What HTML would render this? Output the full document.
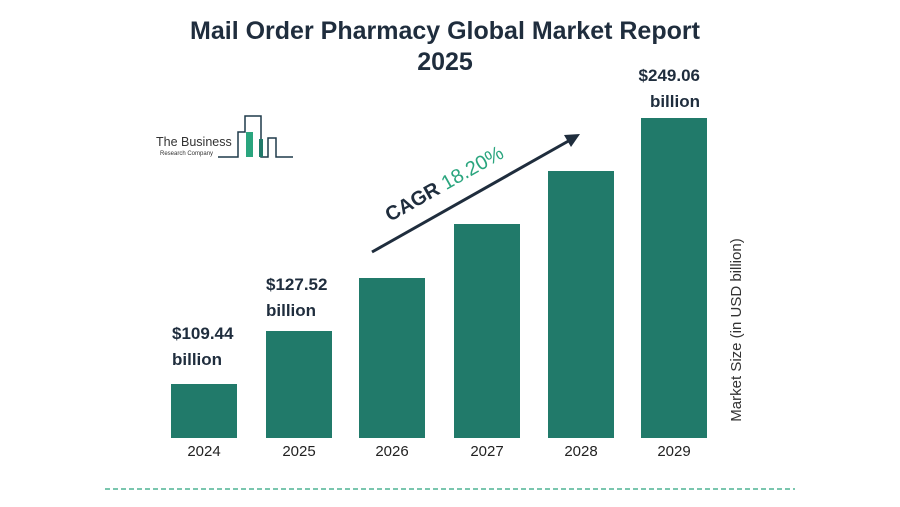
<!DOCTYPE html>
<html><head><style>
body{margin:0;width:900px;height:507px;background:#fff;overflow:hidden;font-family:"Liberation Sans",sans-serif;position:relative}
.t{position:absolute;color:#1f2d3d;font-weight:bold}
.bar{position:absolute;background:#217a6a;width:66px}
.yr{position:absolute;top:443px;width:66px;text-align:center;font-size:15px;color:#222}
.lb{position:absolute;font-size:17px;font-weight:bold;color:#1f2d3d;line-height:26px}
</style></head><body>
<div class="t" style="left:0;width:890px;text-align:center;top:16px;font-size:25px;line-height:31px">Mail Order Pharmacy Global Market Report<br>2025</div>

<svg style="position:absolute;left:150px;top:110px" width="150" height="50">
<text x="6" y="36" font-size="12.5" fill="#333" font-family="Liberation Sans">The Business</text>
<text x="10" y="45" font-size="6" fill="#333" font-family="Liberation Sans">Research Company</text>
<polyline points="68,47 88,47 88,22 95,22 95,6 111,6 111,47 118,47 118,28 126,28 126,47 143,47" fill="none" stroke="#1f3a4a" stroke-width="1.5"/>
<rect x="96" y="22" width="7" height="25" fill="#2aa57e"/>
<rect x="109" y="29" width="4" height="18" fill="#217a6a"/>
</svg>

<div class="bar" style="left:171px;top:384px;height:54px"></div>
<div class="bar" style="left:266px;top:331px;height:107px"></div>
<div class="bar" style="left:359px;top:278px;height:160px"></div>
<div class="bar" style="left:454px;top:224px;height:214px"></div>
<div class="bar" style="left:548px;top:171px;height:267px"></div>
<div class="bar" style="left:641px;top:118px;height:320px"></div>

<div class="yr" style="left:171px">2024</div>
<div class="yr" style="left:266px">2025</div>
<div class="yr" style="left:359px">2026</div>
<div class="yr" style="left:454px">2027</div>
<div class="yr" style="left:548px">2028</div>
<div class="yr" style="left:641px">2029</div>

<div class="lb" style="left:172px;top:321px">$109.44<br>billion</div>
<div class="lb" style="left:266px;top:272px">$127.52<br>billion</div>
<div class="lb" style="left:628px;top:63px;text-align:right;width:72px">$249.06<br>billion</div>

<svg style="position:absolute;left:0;top:0" width="900" height="507">
<line x1="372" y1="252" x2="572" y2="139" stroke="#1f2d3d" stroke-width="3"/>
<polygon points="580,134 564,135 571,147" fill="#1f2d3d"/>
<text x="0" y="0" transform="translate(390,222) rotate(-29.5)" font-size="20" font-weight="bold" fill="#1f2d3d" font-family="Liberation Sans">CAGR <tspan fill="#2aa57e" font-weight="normal">18.20%</tspan></text>
<text transform="translate(741,330) rotate(-90)" text-anchor="middle" font-size="15" fill="#333" font-family="Liberation Sans">Market Size (in USD billion)</text>
<line x1="105" y1="489" x2="795" y2="489" stroke="#2aa57e" stroke-width="1.2" stroke-dasharray="5,3"/>
</svg>
</body></html>
